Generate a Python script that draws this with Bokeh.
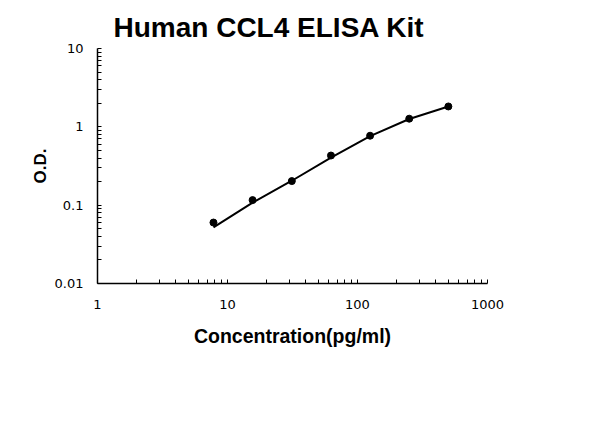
from bokeh.plotting import figure
from bokeh.embed import file_html
from bokeh.resources import INLINE
from bokeh.models import FixedTicker

# Data
concentration = [7.8, 15.6, 31.25, 62.5, 125, 250, 500]
od = [0.060, 0.116, 0.203, 0.43, 0.77, 1.27, 1.82]
curve_x = [7.8, 15.6, 31.25, 62.5, 125, 250, 500]
curve_y = [0.052, 0.108, 0.205, 0.405, 0.76, 1.26, 1.82]

x_ticks = [1, 10, 100, 1000]
x_labels = ["1", "10", "100", "1000"]
y_ticks = [0.01, 0.1, 1, 10]
y_labels = ["0.01", "0.1", "1", "10"]

title = "Human CCL4 ELISA Kit"
x_title = "Concentration(pg/ml)"
y_title = "O.D."

p = figure(width=600, height=447, x_axis_type="log", y_axis_type="log",
           x_range=(1, 1000), y_range=(0.01, 10),
           output_backend="svg", toolbar_location=None,
           min_border_left=97, min_border_right=113,
           min_border_top=48, min_border_bottom=164)
p.outline_line_color = None
p.grid.visible = False
p.background_fill_color = "white"
p.border_fill_color = "white"

p.title.text = title
p.title.text_font = "Liberation Sans"
p.title.text_font_size = "28px"
p.title.text_font_style = "bold"
p.title.text_color = "black"
p.title.align = "left"
p.title.offset = 16
p.title.standoff = 12


def minors(ticks):
    out = []
    for t in ticks[:-1]:
        out += [t * k for k in range(2, 10)]
    return out

p.xaxis.ticker = FixedTicker(ticks=x_ticks, minor_ticks=minors(x_ticks))
p.yaxis.ticker = FixedTicker(ticks=y_ticks, minor_ticks=minors(y_ticks))
p.xaxis.major_label_overrides = {t: l for t, l in zip(x_ticks, x_labels)}
p.yaxis.major_label_overrides = {t: l for t, l in zip(y_ticks, y_labels)}

for ax in (p.xaxis, p.yaxis):
    ax.axis_line_color = "black"
    ax.axis_line_width = 1.5
    ax.major_tick_in = 4
    ax.major_tick_out = 0
    ax.minor_tick_in = 4
    ax.minor_tick_out = 0
    ax.major_tick_line_color = "black"
    ax.minor_tick_line_color = "black"
    ax.major_label_text_font = "DejaVu Sans"
    ax.major_label_text_font_size = "13px"
    ax.major_label_text_color = "black"
    ax.axis_label_text_font = "Liberation Sans"
    ax.axis_label_text_font_style = "bold"
    ax.axis_label_text_color = "black"

p.xaxis.axis_label = x_title
p.yaxis.axis_label = y_title
p.xaxis.axis_label_text_font_size = "19.5px"
p.yaxis.axis_label_text_font_size = "17px"
p.xaxis.major_label_standoff = 16
p.yaxis.major_label_standoff = 14
p.xaxis.axis_label_standoff = 13
p.yaxis.axis_label_standoff = 2

p.line(curve_x, curve_y, line_color="black", line_width=2)
p.scatter(concentration, od, size=7, fill_color="black", line_color="black")

open("out.html", "w").write(file_html(p, INLINE))
